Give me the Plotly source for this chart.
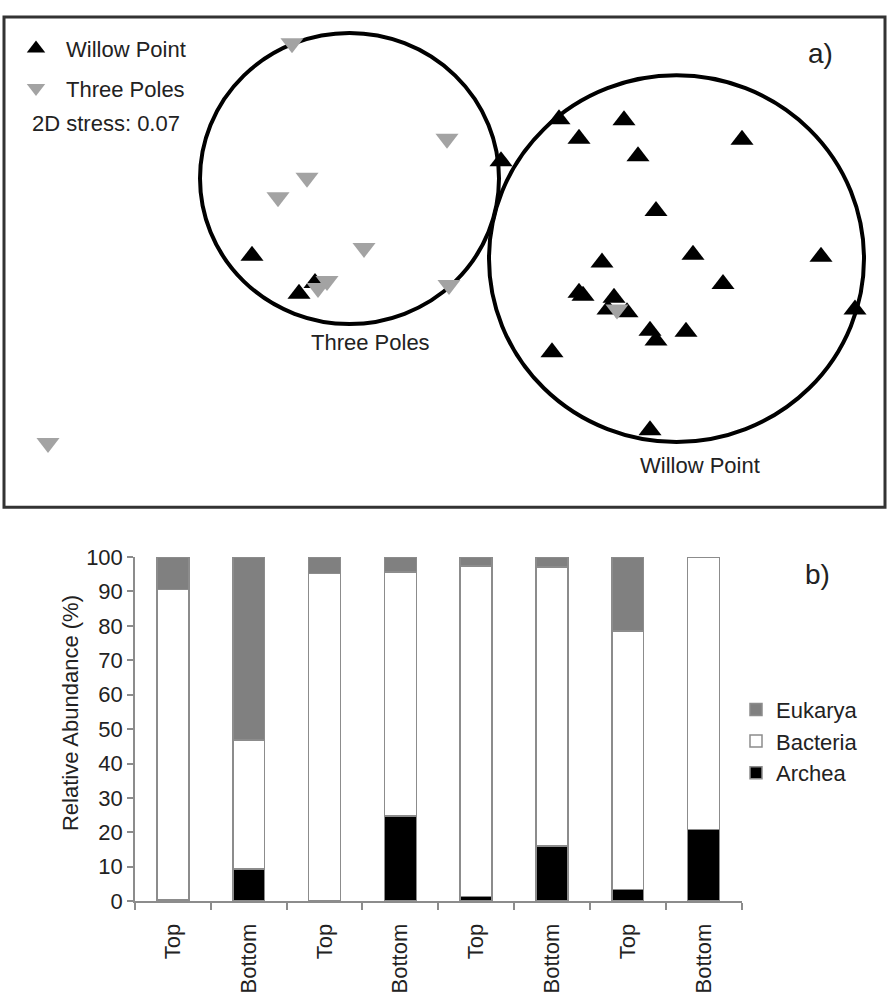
import plotly.graph_objects as go

# ---------------- data: panel a) NMDS ordination (arbitrary NMDS units) -------------
willow_x = [1.14, 1.79, 1.34, 2.97, 1.93, 0.56, 2.11, 2.48, 3.76, 1.57, 2.78, 1.34, 1.38,
            1.69, 1.63, 1.82, 4.10, 2.05, 2.11, 2.41, 1.07, 2.05, -1.93, -1.30, -1.46]
willow_y = [1.45, 1.44, 1.25, 1.24, 1.07, 1.02, 0.51, 0.06, 0.04, -0.02, -0.24, -0.33, -0.36,
            -0.38, -0.50, -0.53, -0.50, -0.72, -0.82, -0.73, -0.94, -1.74, 0.05, -0.23, -0.34]
poles_x = [-1.53, 0.02, -1.38, -1.67, -0.81, -1.18, -1.27, 0.04, 1.72, -3.97]
poles_y = [2.23, 1.25, 0.85, 0.65, 0.13, -0.21, -0.28, -0.25, -0.50, -1.87]

# group circles: [x0, y0, x1, y1] in NMDS units
poles_circle = [-2.45, -0.65, 0.54, 2.335]
willow_circle = [0.44, -1.86, 4.19, 1.90]

# ---------------- data: panel b) relative abundance ----------------------------------
tick_labels = ["Top", "Bottom", "Top", "Bottom", "Top", "Bottom", "Top", "Bottom"]
archea = [0.3, 9.4, 0.0, 24.8, 1.4, 16.1, 3.4, 20.9]
bacteria = [90.2, 37.5, 95.2, 70.9, 96.0, 81.0, 75.1, 79.1]
eukarya = [9.5, 53.1, 4.8, 4.3, 2.6, 2.9, 21.5, 0.0]

FONT = "Liberation Sans, Arial, sans-serif"
TXT = "#222222"
GRAY_T = "#a3a3a3"
EDGE = "#8c8c8c"
FS = 22

fig = go.Figure()

# panel a) scatter
fig.add_trace(go.Scatter(x=willow_x, y=willow_y, mode="markers", name="Willow Point",
                         legendgroup="wp",
                         marker=dict(symbol="triangle-up", size=20, color="black"),
                         xaxis="x", yaxis="y", legend="legend"))
fig.add_trace(go.Scatter(x=poles_x, y=poles_y, mode="markers", name="Three Poles",
                         legendgroup="tp",
                         marker=dict(symbol="triangle-down", size=20, color=GRAY_T),
                         xaxis="x", yaxis="y", legend="legend"))

# panel b) stacked bars
idx = list(range(len(tick_labels)))
for name, vals, fill in [("Archea", archea, "black"),
                         ("Bacteria", bacteria, "white"),
                         ("Eukarya", eukarya, "#808080")]:
    fig.add_trace(go.Bar(x=idx, y=vals, name=name, width=0.42, legendgroup=name,
                         marker=dict(color=fill, line=dict(color=EDGE, width=1.5)),
                         xaxis="x2", yaxis="y2", legend="legend2"))

shapes = [
    dict(type="circle", xref="x", yref="y", x0=poles_circle[0], y0=poles_circle[1],
         x1=poles_circle[2], y1=poles_circle[3], line=dict(color="black", width=4), layer="below"),
    dict(type="circle", xref="x", yref="y", x0=willow_circle[0], y0=willow_circle[1],
         x1=willow_circle[2], y1=willow_circle[3], line=dict(color="black", width=4), layer="below"),
    dict(type="rect", xref="paper", yref="paper", x0=4/890, x1=885/890, y0=1-508/1000, y1=1-5/1000,
         line=dict(color="#333333", width=3)),
]

def px(xp, yp):
    return xp / 890, 1 - yp / 1000

annotations = []
for text, (xp, yp), size, anchor, angle in [
        ("2D stress: 0.07", (30, 114), FS, "left", 0),
        ("a)", (820, 43), 28, "center", 0),
        ("b)", (817, 577), 28, "center", 0),
        ("Three Poles", (370, 339), FS, "center", 0),
        ("Willow Point", (700, 465), FS, "center", 0),
        ("Relative Abundance (%)", (70, 719), FS, "center", -90)]:
    x, y = px(xp, yp)
    annotations.append(dict(text=text, xref="paper", yref="paper", x=x, y=y,
                            xanchor=anchor, yanchor="middle", showarrow=False,
                            textangle=angle, font=dict(size=size, color=TXT)))

fig.update_layout(
    width=890, height=1000,
    margin=dict(l=0, r=0, t=0, b=0),
    paper_bgcolor="white", plot_bgcolor="white",
    font=dict(family=FONT, size=FS, color=TXT),
    barmode="stack",
    shapes=shapes, annotations=annotations,
    xaxis=dict(domain=[0, 1], range=[-4.45, 4.45], visible=False, fixedrange=True),
    yaxis=dict(domain=[1-510/1000, 1], range=[-2.55, 2.55], visible=False, fixedrange=True),
    xaxis2=dict(domain=[135/890, 741.5/890], range=[-0.5, 7.5], anchor="y2",
                showline=True, linecolor=EDGE, linewidth=1.5, showgrid=False, zeroline=False,
                tickmode="array", tickvals=idx, ticktext=tick_labels, ticks="", tickangle=-90,
                ticklabelstandoff=12, tickfont=dict(size=FS, color=TXT),
                minor=dict(ticks="outside", tick0=-0.5, dtick=1, ticklen=7, tickcolor=EDGE,
                           tickwidth=1.5, showgrid=False)),
    yaxis2=dict(domain=[1-912/1000, 1-559/1000], range=[0, 100], anchor="x2",
                showline=True, linecolor=EDGE, linewidth=1.5, showgrid=False, zeroline=False,
                tickmode="linear", tick0=0, dtick=10, ticks="outside", ticklen=6,
                tickcolor=EDGE, tickwidth=1.5, tickfont=dict(size=FS, color=TXT)),
    legend=dict(x=6/890, y=1-16/1000, xanchor="left", yanchor="top", bgcolor="rgba(0,0,0,0)",
                font=dict(size=FS, color=TXT), tracegroupgap=8, itemwidth=50),
    legend2=dict(x=736/890, y=1-694/1000, xanchor="left", yanchor="top", bgcolor="rgba(0,0,0,0)",
                 font=dict(size=FS, color=TXT), traceorder="reversed", tracegroupgap=4),
    showlegend=True,
)

fig.write_html("out.html", config={"displayModeBar": False},
               post_script="document.body.style.margin='0';")
